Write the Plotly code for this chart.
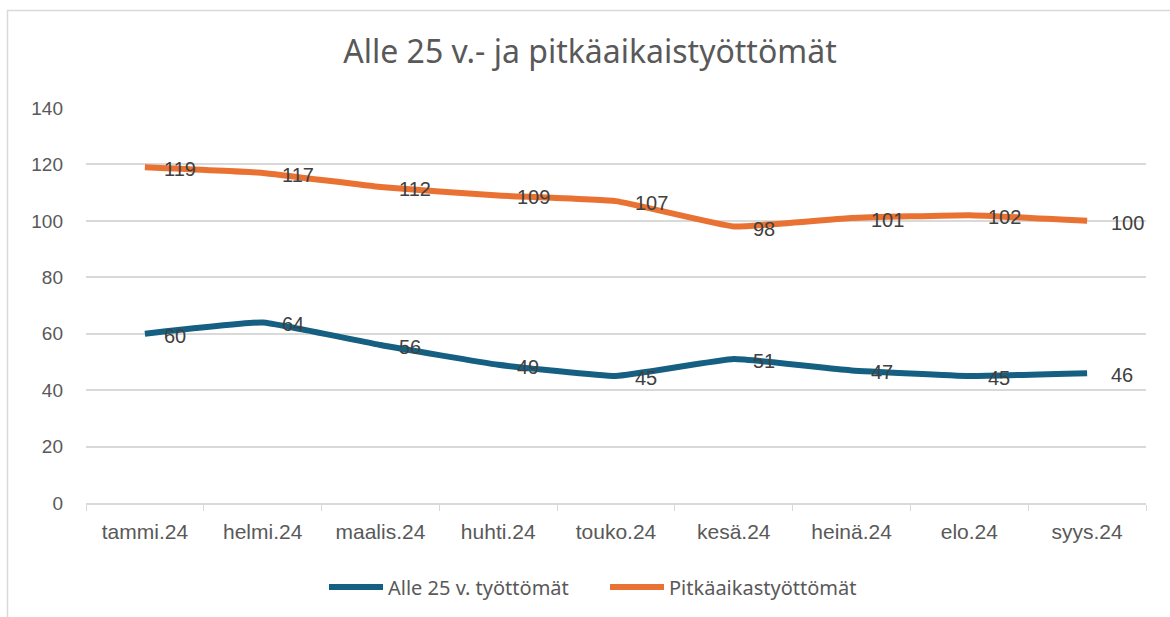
import plotly.graph_objects as go

categories = ["tammi.24", "helmi.24", "maalis.24", "huhti.24", "touko.24",
              "kesä.24", "heinä.24", "elo.24", "syys.24"]
alle25 = [60, 64, 56, 49, 45, 51, 47, 45, 46]
pitkaaikais = [119, 117, 112, 109, 107, 98, 101, 102, 100]
series_names = ["Alle 25 v. työttömät", "Pitkäaikastyöttömät"]
title_text = "Alle 25 v.- ja pitkäaikaistyöttömät"

W, H = 1170, 617
L, R, T, B = 86, 24, 108, 114
pw, ph = W - L - R, H - T - B

blue = "#156082"
orange = "#E97132"
grid = "#D9D9D9"
txt = "#595959"
lab = "#404040"

fig = go.Figure()
for name, vals, col in [(series_names[0], alle25, blue), (series_names[1], pitkaaikais, orange)]:
    fig.add_trace(go.Scatter(
        x=categories, y=vals, name=name, mode="lines",
        line=dict(color=col, width=6, shape="spline", smoothing=0.3),
        hoverinfo="skip",
    ))

annos = []
for vals in (alle25, pitkaaikais):
    for i, (c, v) in enumerate(zip(categories, vals)):
        annos.append(dict(x=c, y=v, xref="x", yref="y", text=str(v), showarrow=False,
                          xanchor="left", yanchor="middle",
                          xshift=17 if i < len(categories) - 1 else 22,
                          yshift=-2,
                          font=dict(family="Liberation Sans, Arial", size=20, color=lab)))

def px2paper_x(px):
    return (px - L) / pw

def px2paper_y(py):
    return (H - B - py) / ph

fig.update_layout(
    width=W, height=H,
    margin=dict(l=L, r=R, t=T, b=B),
    paper_bgcolor="white", plot_bgcolor="white",
    title=dict(text=title_text, x=590 / W, xref="container", xanchor="center",
               y=1 - 52 / H, yref="container", yanchor="middle",
               font=dict(family="Noto Sans", size=32, color=txt)),
    xaxis=dict(type="category", showgrid=False, showline=True, linecolor=grid, linewidth=1.5,
               ticks="outside", tickson="boundaries", ticklen=6, tickcolor=grid,
               tickfont=dict(family="Liberation Sans, Arial", size=21, color=txt),
               ticklabelstandoff=9,
               range=[-0.5, len(categories) - 0.5], fixedrange=True),
    yaxis=dict(range=[0, 140], dtick=20, showgrid=True, gridcolor=grid, gridwidth=1.5,
               zeroline=False, showline=False, ticks="",
               tickfont=dict(family="Liberation Sans, Arial", size=19, color=txt),
               ticklabelstandoff=22, fixedrange=True),
    legend=dict(orientation="h", x=605 / W, xref="container", xanchor="center",
                y=1 - 587 / H, yref="container", yanchor="middle",
                font=dict(family="Noto Sans", size=20, color=txt),
                itemwidth=54, entrywidth=212, tracegroupgap=0),
    annotations=annos,
    showlegend=True,
    shapes=[dict(type="rect", xref="paper", yref="paper",
                 x0=px2paper_x(7.5), x1=px2paper_x(1190), y0=px2paper_y(10.5), y1=px2paper_y(640),
                 line=dict(color="#D9D9D9", width=1.5), fillcolor="rgba(0,0,0,0)", layer="below")],
)

fig.write_html("out.html", config={"displayModeBar": False},
               post_script="document.body.style.margin='0';")
